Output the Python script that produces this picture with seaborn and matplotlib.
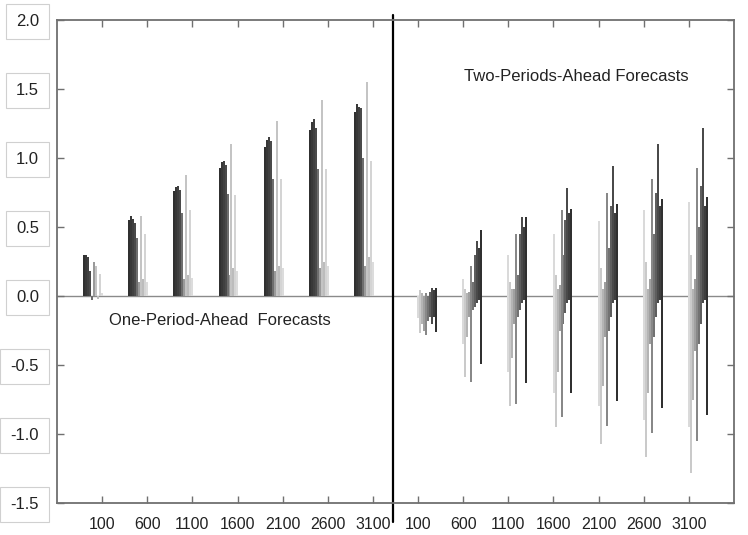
import pandas as pd
import matplotlib
matplotlib.use('Agg')
import matplotlib.pyplot as plt
import seaborn as sns

# sample sizes (same for both panels)
sizes = ['100', '600', '1100', '1600', '2100', '2600', '3100']

# One-period-ahead forecasts, series ordered dark -> light
one_1 = [0.30, 0.55, 0.76, 0.93, 1.08, 1.20, 1.33]
one_2 = [0.30, 0.58, 0.79, 0.97, 1.13, 1.26, 1.39]
one_3 = [0.28, 0.56, 0.80, 0.98, 1.15, 1.28, 1.37]
one_4 = [0.18, 0.53, 0.77, 0.95, 1.12, 1.22, 1.36]
one_5 = [-0.03, 0.42, 0.60, 0.74, 0.85, 0.92, 1.00]
one_6 = [0.25, 0.10, 0.12, 0.15, 0.18, 0.20, 0.22]
one_7 = [0.22, 0.58, 0.88, 1.10, 1.27, 1.42, 1.55]
one_8 = [-0.02, 0.12, 0.15, 0.20, 0.22, 0.25, 0.28]
one_9 = [0.16, 0.45, 0.62, 0.73, 0.85, 0.92, 0.98]
one_10 = [0.02, 0.10, 0.13, 0.18, 0.20, 0.22, 0.25]

# Two-periods-ahead forecasts, series ordered light -> dark (upper / lower parts)
two_up_1 = [0.00, 0.12, 0.30, 0.45, 0.54, 0.62, 0.68]
two_low_1 = [-0.16, -0.35, -0.55, -0.70, -0.80, -0.90, -0.95]
two_up_2 = [0.04, 0.05, 0.10, 0.15, 0.20, 0.25, 0.30]
two_low_2 = [-0.27, -0.59, -0.80, -0.95, -1.07, -1.17, -1.28]
two_up_3 = [0.02, 0.02, 0.05, 0.05, 0.05, 0.05, 0.05]
two_low_3 = [-0.20, -0.30, -0.45, -0.55, -0.65, -0.70, -0.75]
two_up_4 = [0.00, 0.03, 0.05, 0.08, 0.10, 0.12, 0.12]
two_low_4 = [-0.25, -0.15, -0.20, -0.25, -0.30, -0.35, -0.40]
two_up_5 = [0.02, 0.22, 0.45, 0.62, 0.75, 0.85, 0.93]
two_low_5 = [-0.28, -0.62, -0.78, -0.88, -0.94, -0.99, -1.05]
two_up_6 = [0.00, 0.10, 0.15, 0.30, 0.35, 0.45, 0.50]
two_low_6 = [-0.18, -0.10, -0.15, -0.20, -0.25, -0.30, -0.35]
two_up_7 = [0.03, 0.30, 0.45, 0.55, 0.65, 0.75, 0.80]
two_low_7 = [-0.15, -0.08, -0.10, -0.12, -0.15, -0.15, -0.20]
two_up_8 = [0.06, 0.40, 0.57, 0.78, 0.94, 1.10, 1.22]
two_low_8 = [-0.20, -0.05, -0.05, -0.05, -0.05, -0.05, -0.05]
two_up_9 = [0.04, 0.35, 0.50, 0.60, 0.60, 0.65, 0.65]
two_low_9 = [-0.15, -0.03, -0.03, -0.03, -0.03, -0.03, -0.03]
two_up_10 = [0.06, 0.48, 0.57, 0.63, 0.67, 0.70, 0.72]
two_low_10 = [-0.26, -0.49, -0.63, -0.70, -0.76, -0.81, -0.86]

one_series = [one_1, one_2, one_3, one_4, one_5, one_6, one_7, one_8, one_9, one_10]
two_up = [two_up_1, two_up_2, two_up_3, two_up_4, two_up_5,
          two_up_6, two_up_7, two_up_8, two_up_9, two_up_10]
two_low = [two_low_1, two_low_2, two_low_3, two_low_4, two_low_5,
           two_low_6, two_low_7, two_low_8, two_low_9, two_low_10]

one_colors = ['#303030', '#383838', '#404040', '#4a4a4a', '#6e6e6e',
              '#9a9a9a', '#c4c4c4', '#bcbcbc', '#d4d4d4', '#dcdcdc']
two_colors = ['#dadada', '#cacaca', '#b4b4b4', '#a0a0a0', '#888888',
              '#727272', '#5e5e5e', '#4a4a4a', '#3e3e3e', '#303030']

names = ['s%d' % (k + 1) for k in range(10)]

# long tables; left panel groups sit left of the tick, right panel groups right of it
one_rows = []
for name, vals in zip(names, one_series):
    for i, v in enumerate(vals):
        one_rows.append({'pos': i - 0.2, 'series': name, 'value': v})
df_one = pd.DataFrame(one_rows)

up_rows, low_rows = [], []
for name, up, low in zip(names, two_up, two_low):
    for i, (u, l) in enumerate(zip(up, low)):
        up_rows.append({'pos': 7 + i + 0.2, 'series': name, 'value': u})
        low_rows.append({'pos': 7 + i + 0.2, 'series': name, 'value': l})
df_up = pd.DataFrame(up_rows)
df_low = pd.DataFrame(low_rows)

sns.set_style('ticks')
plt.rcParams['font.family'] = ['Liberation Sans', 'DejaVu Sans']

fig = plt.figure(figsize=(7.48, 5.35), dpi=100)
ax = fig.add_axes([0.0762, 0.0598, 0.9051, 0.9028])

ax.axhline(0, color='#8a8a8a', lw=1.0, zorder=0.5)

bar_kw = dict(x='pos', y='value', hue='series', hue_order=names, native_scale=True,
              width=0.44, dodge=True, legend=False, saturation=1, errorbar=None,
              linewidth=0, ax=ax)
sns.barplot(data=df_one, palette=one_colors, **bar_kw)
sns.barplot(data=df_up, palette=two_colors, **bar_kw)
sns.barplot(data=df_low, palette=two_colors, **bar_kw)

ax.set_xlim(-1, 14)
ax.set_ylim(-1.5, 2.0)
ax.set_xticks(range(14))
ax.set_xticklabels(sizes + sizes, fontsize=11.5, color='#222222')
ax.set_yticks([-1.5, -1.0, -0.5, 0.0, 0.5, 1.0, 1.5, 2.0])
ax.set_yticklabels(['-1.5', '-1.0', '-0.5', '0.0', '0.5', '1.0', '1.5', '2.0'],
                   fontsize=12, color='#222222')
for lab in ax.get_yticklabels():
    lab.set_bbox(dict(boxstyle='square,pad=0.6', fc='white', ec='#d0d0d0', lw=0.8))
ax.set_xlabel('')
ax.set_ylabel('')
ax.tick_params(direction='in', top=True, right=True, length=5, width=1,
               color='#707070')
ax.tick_params(axis='y', pad=13)
ax.tick_params(axis='x', pad=10)
for sp in ax.spines.values():
    sp.set_color('#707070')
    sp.set_linewidth(1.3)

# divider between the two panels
ax.plot([6.45, 6.45], [-0.04, 1.01], color='black', lw=1.6,
        transform=ax.get_xaxis_transform(), clip_on=False)

ax.text(2.6, -0.18, 'One-Period-Ahead  Forecasts', fontsize=12, color='#222222',
        ha='center', va='center')
ax.text(10.5, 1.59, 'Two-Periods-Ahead Forecasts', fontsize=12, color='#222222',
        ha='center', va='center')

fig.savefig('out.png', dpi=100)
